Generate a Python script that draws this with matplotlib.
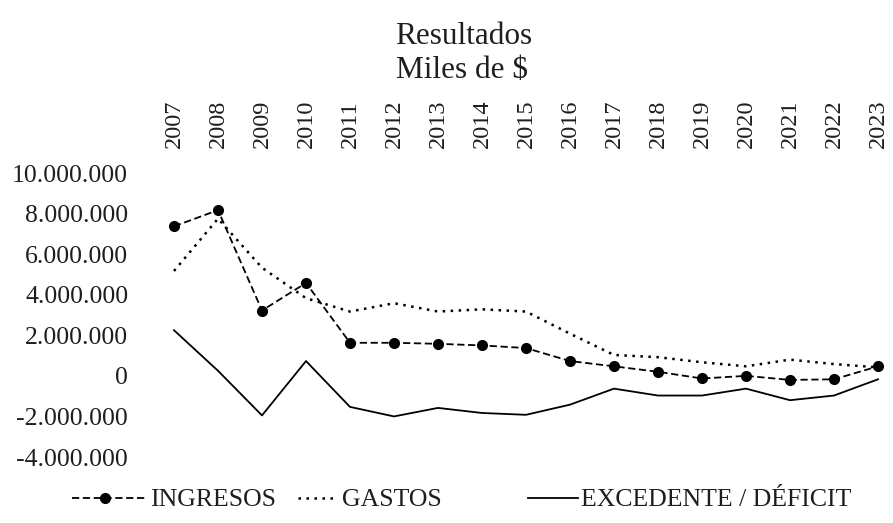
import matplotlib.pyplot as plt
from matplotlib.lines import Line2D
from matplotlib.ticker import FuncFormatter

plt.rcParams['font.family'] = ['Liberation Serif', 'DejaVu Serif']

years = ['2007', '2008', '2009', '2010', '2011', '2012', '2013', '2014', '2015',
         '2016', '2017', '2018', '2019', '2020', '2021', '2022', '2023']

# miles de $
ingresos = [7370000, 8170000, 3220000, 4580000, 1630000, 1630000, 1580000, 1500000,
            1370000, 730000, 470000, 200000, -130000, 0, -200000, -170000, 470000]
gastos = [5170000, 7750000, 5330000, 3830000, 3170000, 3580000, 3170000, 3280000,
          3170000, 2080000, 1030000, 920000, 670000, 470000, 800000, 580000, 420000]
excedente = [2250000, 250000, -1950000, 730000, -1530000, -2000000, -1580000, -1830000,
             -1920000, -1420000, -630000, -970000, -970000, -630000, -1200000, -970000, -170000]

W, H = 893, 523
TXT = '#1e1e1e'


def fx(px):
    return px / W


def fy(py):
    return 1 - py / H


styles = {
    'INGRESOS': dict(linestyle=(0, (4, 2)), linewidth=1.3, marker='o', markersize=7),
    'GASTOS': dict(linestyle=(0, (1, 2.2)), linewidth=1.8),
    'EXCEDENTE / DÉFICIT': dict(linestyle='-', linewidth=1.3),
}

x = range(len(years))

fig = plt.figure(figsize=(W / 100, H / 100), dpi=100)
ax = fig.add_axes([fx(174), fy(457), (878 - 174) / W, (457 - 173) / H])

for name, vals in zip(styles, [ingresos, gastos, excedente]):
    ax.plot(x, vals, color='black', clip_on=False, **styles[name])

ax.set_xlim(0, len(years) - 1)
ax.set_ylim(-4000000, 10000000)
ax.set_yticks(range(-4000000, 10000001, 2000000))
ax.yaxis.set_major_formatter(FuncFormatter(lambda v, p: f'{int(v):,}'.replace(',', '.')))

ax.xaxis.tick_top()
ax.set_xticks(list(x))
ax.set_xticklabels(years, rotation=90)
ax.tick_params(axis='both', length=0, colors=TXT)
ax.tick_params(axis='x', pad=18, labelsize=17.5)
ax.tick_params(axis='y', pad=33, labelsize=18.5)
for s in ax.spines.values():
    s.set_visible(False)

fig.text(fx(464), fy(44), 'Resultados', ha='center', va='baseline', fontsize=22.5, color=TXT)
fig.text(fx(462), fy(78), 'Miles de $', ha='center', va='baseline', fontsize=22.5, color=TXT)

# legend (handles of different lengths, as in the original)
ly = 498
leg = [('INGRESOS', 72, 145, 150), ('GASTOS', 298, 338, 342),
       ('EXCEDENTE / DÉFICIT', 528, 578, 581)]
for name, x0, x1, tx in leg:
    st = dict(styles[name])
    if 'marker' in st:
        st['markevery'] = [1]
        fig.add_artist(Line2D([fx(x0), fx((x0 + x1) / 2 - 4), fx(x1)], [fy(ly)] * 3,
                              color='black', transform=fig.transFigure, **st))
    else:
        fig.add_artist(Line2D([fx(x0), fx(x1)], [fy(ly), fy(ly)], color='black',
                              transform=fig.transFigure, **st))
    fig.text(fx(tx), fy(ly), name, ha='left', va='center_baseline', fontsize=18.5, color=TXT)

fig.savefig('out.png', dpi=100)
